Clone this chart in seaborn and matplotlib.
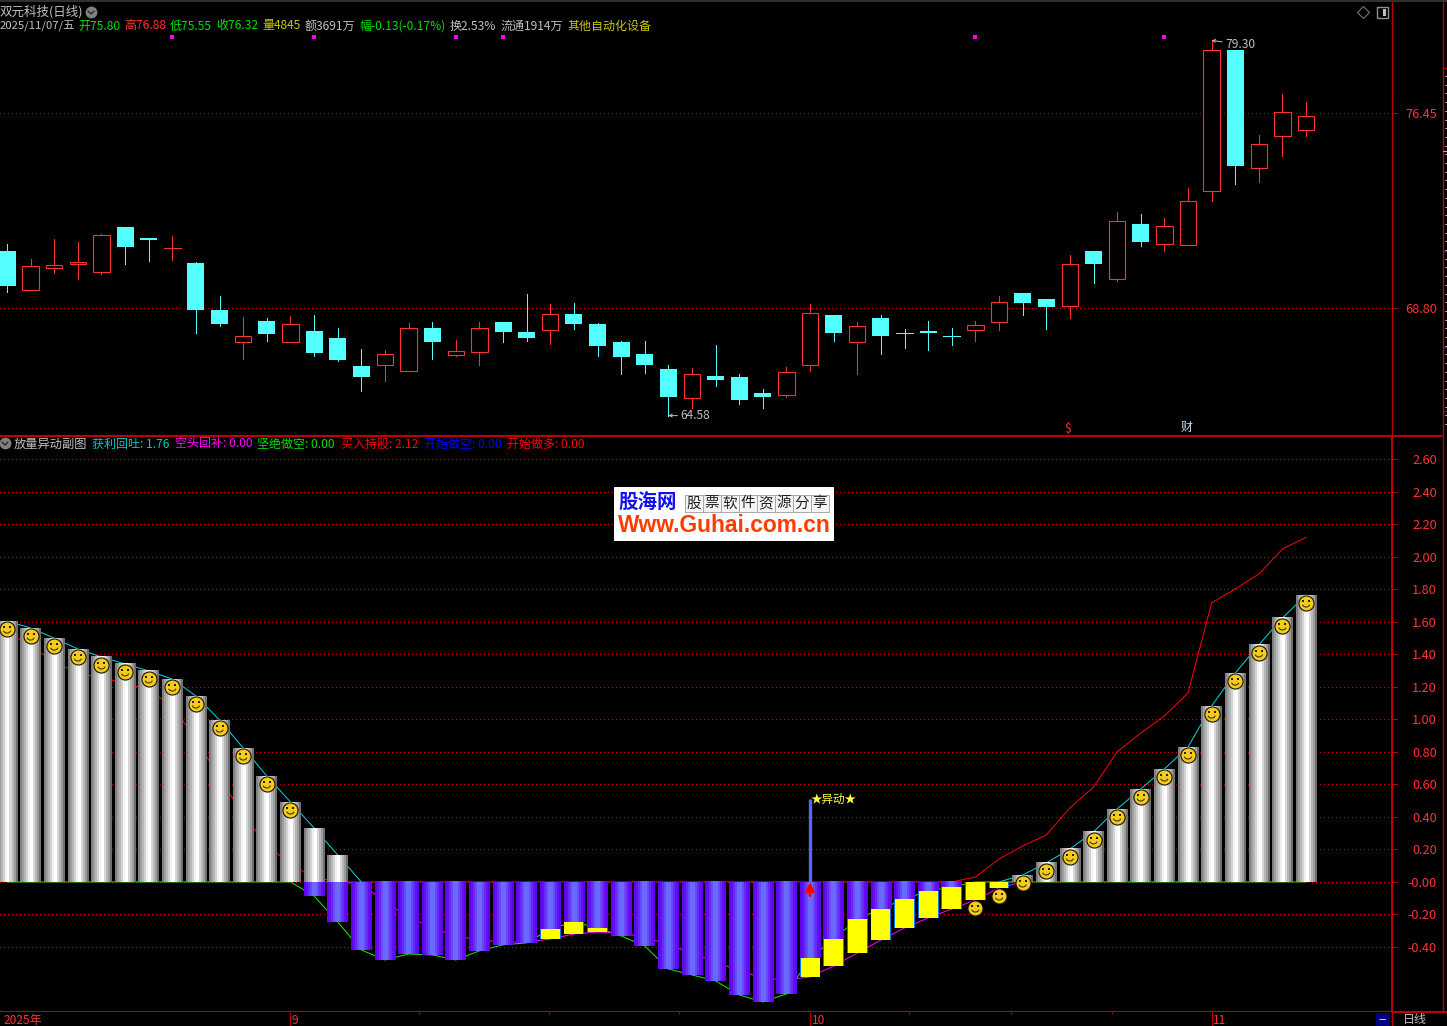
import numpy as np
import pandas as pd
import seaborn as sns
import matplotlib
matplotlib.use("Agg")
import matplotlib.pyplot as plt
from matplotlib.colors import LinearSegmentedColormap
from matplotlib.lines import Line2D
from matplotlib.patches import Rectangle
from matplotlib.path import Path
from matplotlib.transforms import Affine2D, offset_copy

# daily candles
opens = [71.04, 69.51, 70.37, 70.53, 70.21, 71.98, 71.55, 71.15, 70.57, 68.72, 67.47, 68.29, 67.47, 67.90,
         67.62, 66.52, 66.56, 66.33, 68.02, 66.96, 67.07, 68.25, 67.86, 67.94, 68.56, 68.17, 67.47, 66.99,
         66.41, 65.27, 66.13, 66.09, 65.47, 65.39, 66.56, 68.53, 67.47, 68.41, 67.82, 67.90, 67.70, 67.94,
         68.25, 69.39, 69.15, 68.88, 71.04, 69.94, 72.10, 71.31, 71.27, 73.39, 78.92, 74.29, 75.55, 75.80]
highs = [71.31, 70.72, 71.51, 71.39, 71.70, 71.98, 71.55, 71.62, 70.60, 69.27, 68.45, 68.41, 68.49, 68.53,
         68.02, 67.19, 67.15, 68.21, 68.25, 67.54, 68.25, 68.25, 69.35, 68.96, 69.00, 68.21, 67.51, 67.51,
         66.56, 66.45, 67.35, 66.21, 65.62, 66.49, 68.96, 68.53, 68.25, 68.53, 67.98, 68.29, 68.02, 68.29,
         69.27, 69.39, 69.15, 70.88, 71.04, 72.57, 72.49, 72.33, 73.51, 79.30, 78.92, 75.59, 77.20, 76.88]
lows = [69.43, 69.51, 70.17, 69.94, 70.13, 70.53, 70.64, 70.68, 67.82, 68.09, 66.80, 67.51, 67.47, 66.92,
        66.72, 65.54, 65.94, 66.33, 66.80, 66.92, 66.56, 67.47, 67.51, 67.39, 67.98, 66.92, 66.21, 66.25,
        64.58, 64.88, 65.74, 65.03, 64.88, 65.31, 66.33, 67.51, 66.21, 66.99, 67.23, 67.15, 67.35, 67.51,
        67.94, 68.53, 67.98, 68.41, 69.78, 69.86, 71.23, 71.04, 71.27, 73.00, 73.66, 73.74, 74.76, 75.55]
closes = [69.66, 70.45, 70.49, 70.60, 71.66, 71.19, 71.47, 71.15, 68.72, 68.17, 67.70, 67.78, 68.17, 67.03,
          66.76, 66.09, 66.99, 68.02, 67.47, 67.11, 68.02, 67.86, 67.62, 68.56, 68.17, 67.31, 66.88, 66.56,
          65.31, 66.21, 65.98, 65.19, 65.31, 66.29, 68.60, 67.82, 68.09, 67.70, 67.78, 67.82, 67.66, 68.13,
          69.04, 69.00, 68.84, 70.53, 70.53, 72.21, 71.39, 72.02, 73.00, 78.92, 74.37, 75.23, 76.49, 76.32]
signal_idx = [7, 13, 19, 21, 41, 49]
signal_price = 79.43
price_ticks = [76.45, 68.80]

# sub-chart series
profit_vals = [1.605, 1.562, 1.50, 1.433, 1.384, 1.341, 1.298, 1.248, 1.144, 0.996, 0.824, 0.652, 0.492, 0.332,
               0.166, 0, 0, 0, 0, 0, 0, 0, 0, 0, 0, 0, 0, 0,
               0, 0, 0, 0, 0, 0, 0, 0, 0, 0, 0, 0, 0, 0,
               0, 0.043, 0.117, 0.203, 0.308, 0.449, 0.572, 0.695, 0.83, 1.082, 1.285, 1.458, 1.624, 1.765]
short_vals = [0, 0, 0, 0, 0, 0, 0, 0, 0, 0, 0, 0, 0, -0.086,
              -0.246, -0.418, -0.48, -0.443, -0.449, -0.48, -0.424, -0.387, -0.375, -0.289, -0.246, -0.283, -0.332, -0.394,
              -0.535, -0.572, -0.609, -0.695, -0.738, -0.689, -0.467, -0.351, -0.228, -0.166, -0.105, -0.055, -0.031, 0,
              0, 0, 0, 0, 0, 0, 0, 0, 0, 0, 0, 0, 0, 0]
cover_vals = [0, 0, -0.012, -0.123, -0.215, -0.283, -0.332, -0.357, -0.369, -0.369, -0.351, -0.32, -0.308, -0.314,
              -0.338, -0.387, -0.437, -0.492, -0.547, -0.59, -0.603, -0.584, -0.517, -0.437, -0.357, -0.283, -0.221,
              -0.166, -0.111, -0.037, 0]
hold_vals = [1.537, 1.451, 1.353, 1.285, 1.255, 1.224, 1.181, 1.082, 0.879, 0.64, 0.412, 0.228, 0.105, 0.031,
             0, 0, 0, 0, 0, 0, 0, 0, 0, 0, 0, 0, 0, 0,
             0, 0, 0, 0, 0, 0, 0, 0, 0, 0, 0, 0, 0, 0.03,
             0.141, 0.221, 0.289, 0.455, 0.584, 0.80, 0.916, 1.021, 1.162, 1.716, 1.802, 1.894, 2.048, 2.12]
yellow_idx = [23, 24, 25, 34, 35, 36, 37, 38, 39, 40, 41, 42]
smile_idx = list(range(13)) + list(range(41, 56))
alert_idx = 34
alert_val = 0.51
sub_ticks = [2.6, 2.4, 2.2, 2.0, 1.8, 1.6, 1.4, 1.2, 1.0, 0.8, 0.6, 0.4, 0.2, 0.0, -0.2, -0.4]
sub_tick_labels = ["2.60", "2.40", "2.20", "2.00", "1.80", "1.60", "1.40", "1.20", "1.00", "0.80", "0.60",
                   "0.40", "0.20", "-0.00", "-0.20", "-0.40"]

month_idx = [12, 34, 51]
month_labels = ["9", "10", "11"]
minor_idx = [17.45, 22.95, 28.45, 38.2, 42.5, 46.8]

W, H = 1447, 1026
RED = "#FF3232"
DARK_RED = "#C00000"
CYAN = "#54FFFF"
GREY = "#C0C0C0"
YELLOW = "#C8C800"

sns.set_theme(style="dark", rc={"figure.facecolor": "black", "axes.facecolor": "black", "axes.grid": False,
                                "text.color": GREY})
plt.rcParams["font.family"] = ["Noto Sans CJK SC", "DejaVu Sans"]
plt.rcParams["axes.unicode_minus"] = False

fig = plt.figure(figsize=(W / 100, H / 100), dpi=100, facecolor="black")
px_t = Affine2D().scale(1 / W, -1 / H).translate(0, 1) + fig.transFigure


def axes_px(x0, y0, x1, y1, **kw):
    return fig.add_axes([x0 / W, 1 - y1 / H, (x1 - x0) / W, (y1 - y0) / H], **kw)


def put(x, y, s, color=GREY, size=8.64, **kw):
    kw.setdefault("va", "center")
    fig.text(x, y, s, color=color, fontsize=size, transform=px_t, **kw)


def fig_line(xs, ys, color=DARK_RED, lw=1.0, **kw):
    fig.add_artist(Line2D(xs, ys, color=color, lw=lw, transform=px_t, **kw))


x_left, x_right = -7 / 23.62, (1392 - 7) / 23.62
x_idx = np.arange(len(opens))

# price panel
ax1 = axes_px(0, 0, 1392, 435)
ax1.set_xlim(x_left, x_right)
ax1.set_ylim(63.82, 80.883)
ax1.hlines(price_ticks, x_left, x_right, color="#B00000", lw=0.72, linestyle=(0, (1, 3)), zorder=1,
           antialiased=False)
for i in x_idx:
    o, h, l, c = opens[i], highs[i], lows[i], closes[i]
    up = c >= o
    col = RED if up else CYAN
    ax1.vlines(i, l, h, color=col, lw=0.72, zorder=2, antialiased=False)
    if abs(c - o) < 0.05:
        ax1.hlines(o, i - 0.36, i + 0.36, color=col, lw=0.72, zorder=3, antialiased=False)
    elif up:
        ax1.bar(i, c - o, 0.69, bottom=o, facecolor="black", edgecolor=col, lw=0.8, zorder=3)
    else:
        ax1.bar(i, o - c, 0.72, bottom=c, color=col, lw=0, zorder=3)
sns.scatterplot(x=[float(v) for v in signal_idx], y=[signal_price] * len(signal_idx), marker="s", s=8,
                color="#FF00FF", linewidth=0, ax=ax1, legend=False, zorder=4)
ax1.annotate("79.30", xy=(51, 79.30), xytext=(10, -3), textcoords="offset points", color=GREY, fontsize=8.64,
             va="center", arrowprops=dict(arrowstyle="->", color=GREY, lw=0.7, shrinkA=0, shrinkB=0, mutation_scale=5))
ax1.annotate("64.58", xy=(28, 64.58), xytext=(9, 0), textcoords="offset points", color=GREY, fontsize=8.64,
             va="center", arrowprops=dict(arrowstyle="->", color=GREY, lw=0.7, shrinkA=0, shrinkB=0, mutation_scale=5))
ax1.set_yticks(price_ticks)
ax1.set_yticklabels(["76.45", "68.80"])
ax1.set_xticks([])
ax1.yaxis.tick_right()
ax1.tick_params(axis="y", length=3.6, width=0.72, color=DARK_RED, labelcolor=RED, labelsize=9.2, pad=28.8)
for lab in ax1.get_yticklabels():
    lab.set_ha("right")
for name, sp in ax1.spines.items():
    sp.set_visible(name == "right")
    sp.set_color(DARK_RED)
    sp.set_linewidth(1.0)

# indicator panel
ax2 = axes_px(0, 436, 1392, 1012)
profit = np.array(profit_vals)
short = np.array(short_vals)
cover_x = np.arange(13, 44)
cover = dict(zip(cover_x, cover_vals))

ax2.hlines(sub_ticks, x_left, x_right, color="#C80000", lw=0.72, linestyle=(0, (1, 3)), zorder=1,
           antialiased=False)

line_kw = dict(ax=ax2, legend=False, errorbar=None, lw=0.72)
sns.lineplot(x=x_idx, y=hold_vals, color="#FF0000", zorder=2, **line_kw)
sns.lineplot(x=x_idx[:16], y=profit[:16], color="#00D8D8", zorder=2, **line_kw)
sns.lineplot(x=x_idx[42:], y=profit[42:], color="#00D8D8", zorder=2, **line_kw)
sns.lineplot(x=x_idx, y=short, color="#00F000", zorder=2, **line_kw)
sns.lineplot(x=cover_x, y=cover_vals, color="#FF00FF", zorder=2.1, **line_kw)

bar_w = 0.875
sns.barplot(x=x_idx, y=short, native_scale=True, width=bar_w, color="#6000F0", saturation=1, linewidth=0,
            ax=ax2, zorder=3, legend=False, errorbar=None)

purple_cm = LinearSegmentedColormap.from_list("p", ["#6200F2", "#6A6AFF"])
grey_cm = LinearSegmentedColormap.from_list("g", ["#606060", "#FFFFFF"])
purple_strip = np.array([[0.0, 0.15, 0.4, 0.7, 1.0, 1.0, 0.7, 0.4, 0.15, 0.0]])
grey_strip = np.array([[0.2, 0.4, 0.55, 0.72, 0.92, 1.0, 0.75, 0.55, 0.38, 0.1]])

for i in x_idx:
    ext_x = (i - bar_w / 2, i + bar_w / 2)
    if short[i] < 0:
        ax2.imshow(purple_strip, cmap=purple_cm, vmin=0, vmax=1, aspect="auto", interpolation="nearest",
                   extent=(ext_x[0], ext_x[1], short[i], 0), zorder=3.1)
    if profit[i] > 0:
        ax2.imshow(grey_strip, cmap=grey_cm, vmin=0, vmax=1, aspect="auto", interpolation="nearest",
                   extent=(ext_x[0], ext_x[1], 0, profit[i]), zorder=3.1)

for i in yellow_idx:
    top, bot = short[i], cover[i]
    ax2.bar(i, bot - top, bar_w, bottom=top, color="#0078F0", lw=0, zorder=3.2)
    ax2.bar(i, bot - top, 0.8, bottom=top, color="#FFFF00", lw=0, zorder=3.3)

# alert stem
ax2.vlines(alert_idx, 0, alert_val, color="#6060FF", lw=2.4, zorder=4)
ax2.annotate("", xy=(alert_idx, 0.0), xytext=(alert_idx, -0.085), zorder=5,
             arrowprops=dict(arrowstyle="-|>", color="#FF0000", lw=2, shrinkA=0, shrinkB=0, mutation_scale=12))
ax2.text(alert_idx + 0.02, alert_val, "★异动★", color="#FFFF40", fontsize=8.3, va="center", zorder=5)

# smiley faces
smile_x = np.array(smile_idx, dtype=float)
smile_y = np.array([profit[i] if profit[i] > 0 else cover[i] for i in smile_idx])
face_t = offset_copy(ax2.transData, fig=fig, x=0, y=-8, units="dots")
sns.scatterplot(x=smile_x, y=smile_y, s=118, color="#F2CC1C", edgecolor="#181000", linewidth=0.8, ax=ax2,
                legend=False, transform=face_t, zorder=6)
eye_l = offset_copy(ax2.transData, fig=fig, x=-3, y=-6, units="dots")
eye_r = offset_copy(ax2.transData, fig=fig, x=3, y=-6, units="dots")
mouth_t = offset_copy(ax2.transData, fig=fig, x=0, y=-8, units="dots")
ax2.scatter(smile_x, smile_y, s=2, marker="s", color="#302000", lw=0, transform=eye_l, zorder=7)
ax2.scatter(smile_x, smile_y, s=2, marker="s", color="#302000", lw=0, transform=eye_r, zorder=7)
ax2.scatter(smile_x, smile_y, s=34, marker=Path.arc(205, 335), facecolors="none", edgecolors="#302000",
            linewidths=0.7, transform=mouth_t, zorder=7)

ax2.set_xlim(x_left, x_right)
ax2.set_ylim(-0.80, 2.743)
ax2.set_xticks([])
ax2.set_xlabel("")
ax2.set_ylabel("")
ax2.yaxis.tick_right()
ax2.set_yticks(sub_ticks)
ax2.set_yticklabels(sub_tick_labels)
ax2.tick_params(axis="y", length=3.6, width=0.72, color=DARK_RED, labelcolor=RED, labelsize=9.2, pad=28.8)
for lab in ax2.get_yticklabels():
    lab.set_ha("right")
for name, sp in ax2.spines.items():
    sp.set_visible(name in ("right", "top", "bottom"))
    sp.set_color(DARK_RED)
    sp.set_linewidth(1.5)

# date strip
ax3 = axes_px(0, 1012, 1392, 1026)
ax3.set_xlim(x_left, x_right)
ax3.set_ylim(0, 1)
ax3.set_xticks([])
ax3.set_yticks([])
ax3.vlines(month_idx, 0, 1, color=DARK_RED, lw=0.8)
ax3.vlines(minor_idx, 0.85, 1, color=DARK_RED, lw=0.8)
for i, lab in zip(month_idx, month_labels):
    ax3.text(i + 0.06, 0.42, lab, color=RED, fontsize=8.64, va="center")
ax3.text(x_left + 0.15, 0.42, "2025年", color=RED, fontsize=8.64, va="center")
for sp in ax3.spines.values():
    sp.set_visible(False)

# frame bits outside the axes
fig.add_artist(Rectangle((0, 0), W, 2, transform=px_t, color="#303030", lw=0))
fig_line([1442.5, 1442.5], [2, 1012], lw=1.0)
fig_line([1392, 1447], [1012, 1012], lw=1.5)
fig_line([1392, 1442], [436, 436], lw=1.5)
fig_line([1392, 1392], [1012, 1026], lw=1.0)
fig_line([1442.5, 1447], [68, 68], lw=0.8)
fig_line([1442.5, 1447], [151, 151], color="#FFA030", lw=0.8)
for y in (251, 347, 411):
    fig_line([1442.5, 1447], [y, y], lw=0.8)
for y in np.arange(76, 432, 8.7):
    fig_line([1445, 1447], [y, y], color="#B0B0B0", lw=0.7)
fig.add_artist(Rectangle((1376, 1013), 14, 13, transform=px_t, color="#000080", lw=0))
put(1383, 1020, "--", color="#E0E0E0", ha="center")
put(1415, 1020, "日线", ha="center")

# window icons
fig.add_artist(Line2D([1363], [12], marker="D", ms=6.5, mfc="none", mec="#707070", mew=0.8, transform=px_t))
fig.add_artist(Rectangle((1377, 7), 11, 11, transform=px_t, fc="none", ec="#909090", lw=1))
fig.add_artist(Rectangle((1383, 9), 3, 7, transform=px_t, fc="#C0C0C0", lw=0))
for cx, cy in ((91, 12), (5, 443)):
    fig.add_artist(Line2D([cx], [cy], marker="o", ms=8.5, mfc="#808080", mec="none", transform=px_t))
    fig_line([cx - 3, cx, cx + 3], [cy - 1, cy + 2, cy - 1], color="#202020", lw=0.9)

# header rows
put(0, 12, "双元科技(日线)", size=9.0)
GREEN = "#00E000"
put(0, 26, "2025/11/07/五", size=8.2)
put(78, 26, "开75.80", color=GREEN)
put(124, 26, "高76.88", color=RED)
put(170, 26, "低75.55", color=GREEN)
put(216, 26, "收76.32", color=GREEN)
put(262, 26, "量4845", color=YELLOW)
put(305, 26, "额3691万")
put(359, 26, "幅-0.13(-0.17%)", color=GREEN)
put(450, 26, "换2.53%")
put(500, 26, "流通1914万")
put(567, 26, "其他自动化设备", color=YELLOW)

put(14, 444, "放量异动副图", size=8.8)
put(92, 444, "获利回吐: 1.76", color="#00C8C8")
put(175, 444, "空头回补: 0.00", color="#FF00FF")
put(257, 444, "坚绝做空: 0.00", color="#00E000")
put(341, 444, "买入持股: 2.12", color="#FF0000")
put(424, 444, "开始做空: 0.00", color="#0000FF")
put(507, 444, "开始做多: 0.00", color="#FF0000")

put(1068, 428, "\\$", color=RED, ha="center")
put(1187, 427, "财", color="#C8D8F0", ha="center")

# watermark
wm = axes_px(614, 487, 834, 541, zorder=20)
wm.set_facecolor("white")
wm.set_xlim(0, 220)
wm.set_ylim(54, 0)
wm.set_xticks([])
wm.set_yticks([])
for sp in wm.spines.values():
    sp.set_visible(False)
wm.text(34, 16, "股海网", color="#1010F0", fontsize=14, fontweight="bold", ha="center", va="center")
cells = list("股票软件资源分享")
cell_w = 18
wm.add_patch(Rectangle((71, 8), cell_w * len(cells), 17, fc="#F4F4F4", ec="#A8A8A8", lw=0.7))
for j, ch in enumerate(cells):
    wm.vlines(71 + j * cell_w, 8, 25, color="#A8A8A8", lw=0.7)
    wm.text(71 + (j + 0.5) * cell_w, 16.5, ch, color="#202020", fontsize=10.5, ha="center", va="center")
wm.text(110, 39, "Www.Guhai.com.cn", color="#FF3C00", fontsize=16.4, fontweight="bold",
        family="Liberation Sans", ha="center", va="center")

fig.savefig("out.png", dpi=100, facecolor="black")
